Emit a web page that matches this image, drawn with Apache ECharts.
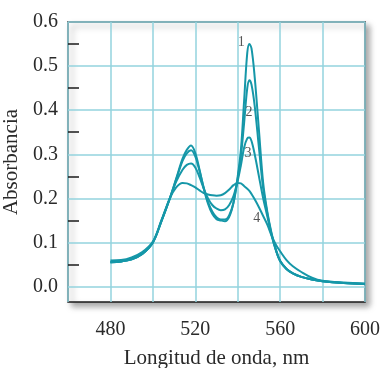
<!DOCTYPE html>
<html><head><meta charset="utf-8">
<script src="https://cdn.jsdelivr.net/npm/echarts@6/dist/echarts.min.js"></script>
<style>html,body{margin:0;padding:0;background:#fff}#c{width:380px;height:368px}</style>
</head><body><div id="c"></div>
<script>
const wavelengths = [480, 485, 490, 495, 500, 504, 508, 511, 514, 516, 518, 520, 522, 524, 526, 528, 530, 532, 534, 536, 538, 540, 541.5, 543, 544.5, 545.5, 546.5, 548, 550, 552, 554, 556, 558, 560, 563, 566, 570, 575, 580, 590, 600];
const curve1 = [0.055, 0.057, 0.062, 0.074, 0.100, 0.148, 0.200, 0.245, 0.290, 0.310, 0.320, 0.303, 0.265, 0.222, 0.188, 0.165, 0.153, 0.150, 0.148, 0.158, 0.190, 0.250, 0.310, 0.420, 0.530, 0.550, 0.540, 0.475, 0.355, 0.235, 0.168, 0.120, 0.084, 0.058, 0.040, 0.030, 0.022, 0.016, 0.012, 0.008, 0.006];
const curve2 = [0.055, 0.057, 0.062, 0.074, 0.100, 0.148, 0.200, 0.243, 0.285, 0.302, 0.309, 0.295, 0.262, 0.224, 0.192, 0.170, 0.157, 0.152, 0.152, 0.162, 0.190, 0.245, 0.295, 0.370, 0.450, 0.468, 0.458, 0.410, 0.315, 0.222, 0.165, 0.118, 0.083, 0.058, 0.040, 0.030, 0.022, 0.016, 0.012, 0.008, 0.006];
const curve3 = [0.055, 0.057, 0.062, 0.074, 0.100, 0.148, 0.200, 0.238, 0.265, 0.276, 0.279, 0.270, 0.248, 0.222, 0.200, 0.185, 0.177, 0.173, 0.175, 0.185, 0.205, 0.240, 0.275, 0.315, 0.336, 0.338, 0.330, 0.300, 0.250, 0.200, 0.158, 0.115, 0.082, 0.058, 0.040, 0.030, 0.022, 0.016, 0.012, 0.008, 0.006];
const curve4 = [0.059, 0.060, 0.066, 0.078, 0.102, 0.150, 0.200, 0.225, 0.235, 0.234, 0.230, 0.225, 0.218, 0.212, 0.209, 0.207, 0.206, 0.207, 0.212, 0.220, 0.230, 0.235, 0.234, 0.228, 0.222, 0.217, 0.210, 0.198, 0.180, 0.160, 0.140, 0.115, 0.095, 0.080, 0.060, 0.046, 0.033, 0.020, 0.013, 0.009, 0.007];
const xTickLabels = [480, 520, 560, 600];
const yTickLabels = [0, 0.1, 0.2, 0.3, 0.4, 0.5, 0.6];
const yMinorTicks = [0.05, 0.15, 0.25, 0.35, 0.45, 0.55];
const curveNames = ['1', '2', '3', '4'];
const curveLabelX = [541.7, 545.3, 544.8, 549.0];
const curveLabelY = [0.553, 0.396, 0.302, 0.154];

const LINE = '#1597a8';
const GRIDC = '#93d3de';
const FONT = "'Liberation Serif', 'Times New Roman', serif";
const TXT = '#2a2a2a';

function pairs(ys) { return wavelengths.map((w, i) => [w, ys[i]]); }
const curves = [curve1, curve2, curve3, curve4];

const chart = echarts.init(document.getElementById('c'), null, {renderer: 'canvas'});
chart.setOption({
  animation: false,
  grid: {left: 68, top: 22, right: 15, bottom: 66, containLabel: false, outerBoundsMode: 'none',
    show: true, backgroundColor: '#fff',
    borderColor: '#1a1a1a', borderWidth: 1.5,
    shadowColor: 'rgba(0,0,0,0.35)', shadowBlur: 6, shadowOffsetX: 4, shadowOffsetY: 4},
  xAxis: {
    type: 'value', min: 460, max: 600, interval: 20,
    name: 'Longitud de onda, nm', nameLocation: 'middle', nameGap: 46,
    nameTextStyle: {fontFamily: FONT, fontSize: 21, color: TXT},
    axisLine: {show: false}, axisTick: {show: false},
    axisLabel: {fontFamily: FONT, fontSize: 20, color: TXT, margin: 18,
      formatter: v => xTickLabels.includes(v) ? String(v) : ''},
    splitLine: {show: true, lineStyle: {color: GRIDC, width: 1.5}}
  },
  yAxis: [{
    type: 'value', min: -0.035, max: 0.6,
    name: 'Absorbancia', nameLocation: 'middle', nameGap: 37,
    nameTextStyle: {fontFamily: FONT, fontSize: 21, color: TXT},
    axisLine: {show: false},
    axisTick: {show: false, customValues: yTickLabels},
    axisLabel: {fontFamily: FONT, fontSize: 20, color: TXT, margin: 10, customValues: yTickLabels,
      formatter: v => v < -0.001 ? '' : v.toFixed(1)},
    splitLine: {show: true, lineStyle: {color: GRIDC, width: 1.5}}
  }, {
    type: 'value', min: -0.035, max: 0.6, position: 'left',
    axisLine: {show: false}, axisLabel: {show: false}, splitLine: {show: false},
    axisTick: {show: true, inside: true, length: 11, customValues: yMinorTicks,
      lineStyle: {color: '#1a1a1a', width: 1.5}}
  }],
  series: curves.map((c, i) => ({
    type: 'line', data: pairs(c), smooth: 0.35, symbol: 'none', yAxisIndex: 0,
    lineStyle: {color: LINE, width: 2}, z: 3
  })).concat([{
    type: 'scatter', yAxisIndex: 0, symbolSize: 0, silent: true, z: 5,
    data: curveNames.map((n, i) => [curveLabelX[i], curveLabelY[i], n]),
    label: {show: true, position: 'inside', formatter: p => p.data[2],
      fontFamily: FONT, fontSize: 14, color: TXT}
  }])
});
</script></body></html>
